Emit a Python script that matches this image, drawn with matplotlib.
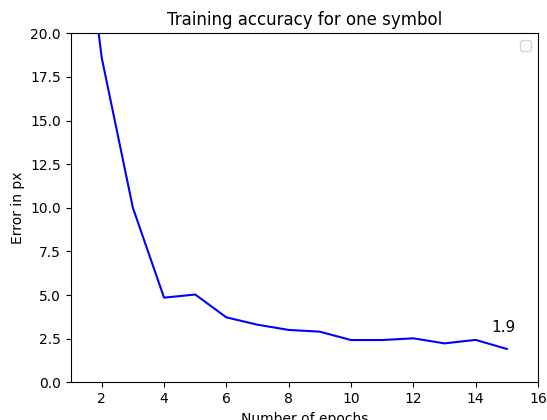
#!/usr/bin/env python3
"""Training accuracy for one symbol: error per epoch."""
import matplotlib

matplotlib.use("Agg")
import matplotlib.pyplot as plt

epochs = [1, 2, 3, 4, 5, 6, 7, 8, 9, 10, 11, 12, 13, 14, 15]
error_px = [33.0, 18.6, 10.0, 4.85, 5.03, 3.72, 3.3, 3.0, 2.9, 2.42, 2.42, 2.52, 2.23, 2.43, 1.91]
last_label = "1.9"


def main() -> None:
    fig = plt.figure(figsize=(5.47, 4.20), dpi=100)
    ax = fig.add_axes([0.129, 0.0898, 0.8545, 0.8309])
    ax.plot(epochs, error_px, color="b", linewidth=1.5)
    ax.set_xlim(1, 16)
    ax.set_ylim(0, 20)
    ax.set_xticks([2, 4, 6, 8, 10, 12, 14, 16])
    ax.text(epochs[-1] - 0.5, error_px[-1] + 0.95, last_label, fontsize=11)
    ax.set_title("Training accuracy for one symbol")
    ax.set_xlabel("Number of epochs")
    ax.set_ylabel("Error in px")
    ax.legend(loc="upper right")
    fig.savefig("out.png", dpi=100)


if __name__ == "__main__":
    main()
